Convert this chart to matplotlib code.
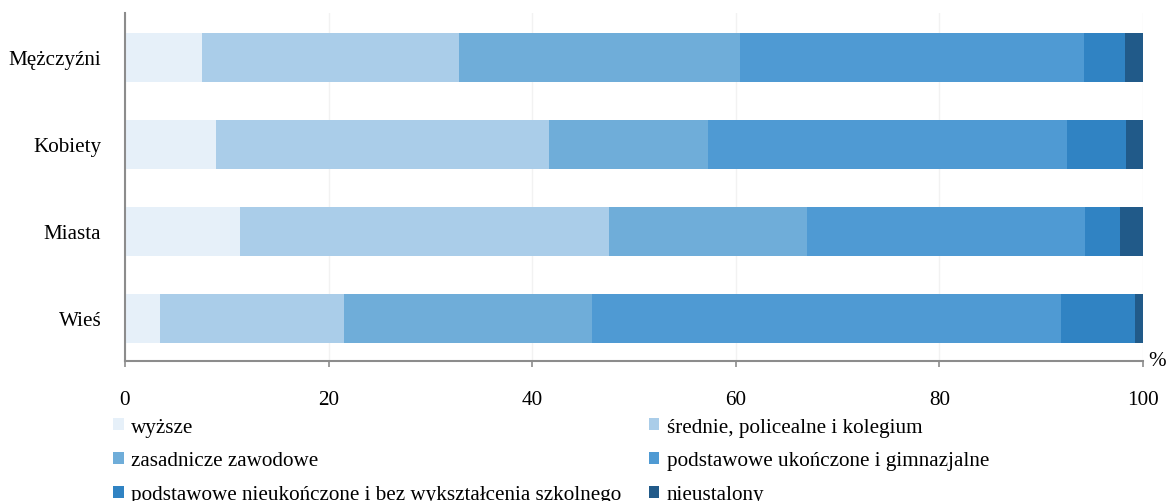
import numpy as np
import matplotlib
matplotlib.use("Agg")
import matplotlib.pyplot as plt
from matplotlib.patches import Patch

plt.rcParams["font.family"] = ["Liberation Serif", "DejaVu Serif"]

# data (shares in %)
groups = ["Mężczyźni", "Kobiety", "Miasta", "Wieś"]
levels = [
    "wyższe",
    "średnie, policealne i kolegium",
    "zasadnicze zawodowe",
    "podstawowe ukończone i gimnazjalne",
    "podstawowe nieukończone i bez wykształcenia szkolnego",
    "nieustalony",
]
wyzsze = [7.6, 8.9, 11.3, 3.4]
srednie = [25.2, 32.8, 36.2, 18.1]
zasadnicze = [27.6, 15.6, 19.5, 24.4]
podst_ukon = [33.8, 35.2, 27.3, 46.0]
podst_nieukon = [4.0, 5.8, 3.4, 7.3]
nieustalony = [1.8, 1.7, 2.3, 0.8]

colors = ["#e6f0f9", "#aacde9", "#6fadd9", "#4f9ad3", "#3083c3", "#215a89"]

series = [wyzsze, srednie, zasadnicze, podst_ukon, podst_nieukon, nieustalony]

fig = plt.figure(figsize=(11.67, 5.02), dpi=100)
ax = fig.add_axes([0.1071, 0.2789, 0.8723, 0.6932])

y = np.arange(len(groups))[::-1]
left = np.zeros(len(groups))
for vals, col, name in zip(series, colors, levels):
    ax.barh(y, vals, left=left, height=0.563, color=col, label=name, zorder=2)
    left += np.array(vals)

ax.set_xlim(0, 100)
ax.set_ylim(-0.49, 3.51)
ax.set_xticks([0, 20, 40, 60, 80, 100])
ax.set_yticks(y)
ax.set_yticklabels(groups)
ax.grid(axis="x", color="#f2f2f2", linewidth=1, zorder=0)

for s in ["top", "right"]:
    ax.spines[s].set_visible(False)
for s in ["left", "bottom"]:
    ax.spines[s].set_color("#8c8c8c")
    ax.spines[s].set_linewidth(1.5)

ax.tick_params(axis="x", direction="out", length=4, width=1.2, color="#8c8c8c",
               pad=17, labelsize=15.2)
ax.tick_params(axis="y", length=0, pad=17, labelsize=15.2)

ax.annotate("%", xy=(1.0, 0.0), xycoords="axes fraction", xytext=(4, 0),
            textcoords="offset points", ha="left", va="center", fontsize=15.2)

# legend filled column-wise, so reorder to get rows as in the original
order = [0, 2, 4, 1, 3, 5]
handles = [Patch(facecolor=colors[i], edgecolor="none") for i in order]
labels = [levels[i] for i in order]
fig.legend(handles, labels, ncol=2, loc="upper left",
           bbox_to_anchor=(0.097, 0.166), frameon=False, fontsize=15.2,
           handlelength=0.5, handleheight=0.5, handletextpad=0.35,
           columnspacing=1.3, labelspacing=0.7, borderpad=0, borderaxespad=0)

fig.savefig("out.png", dpi=100)
